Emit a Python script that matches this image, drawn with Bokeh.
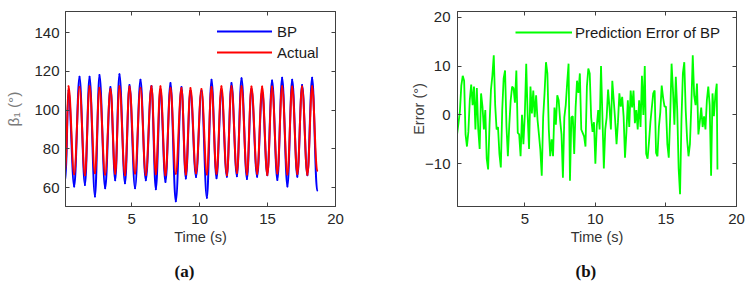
import numpy as np
from bokeh.plotting import figure
from bokeh.models import (Range1d, LinearAxis, FixedTicker, Legend, LegendItem,
                          Title, ColumnDataSource)
from bokeh.layouts import row
from bokeh.embed import file_html
from bokeh.resources import INLINE

# ---------------- data ----------------
# times (s) of successive extrema: start, peak1, trough1, peak2, ..., trough24, peak25, end
ext_time = [0.12,
            0.34, 0.76, 1.15, 1.55, 1.89, 2.29, 2.62, 3.04, 3.43, 3.78, 4.09, 4.50,
            4.83, 5.24, 5.64, 6.03, 6.45, 6.77, 7.11, 7.48, 7.85, 8.24, 8.66, 8.98,
            9.32, 9.73, 10.13, 10.53, 10.87, 11.24, 11.60, 12.00, 12.34, 12.74, 13.08, 13.48,
            13.81, 14.23, 14.60, 14.98, 15.33, 15.72, 16.07, 16.46, 16.81, 17.19, 17.54, 17.93,
            18.28,
            18.65]
actual_ext = [68.8,
              112.4, 67.0, 112.0, 66.5, 112.4, 67.5, 111.6, 66.8, 111.0, 67.2, 112.4, 66.5,
              112.2, 67.4, 111.5, 66.6, 112.4, 67.0, 112.4, 66.4, 111.5, 67.3, 111.5, 66.8,
              111.5, 67.5, 111.0, 66.9, 112.0, 67.2, 112.4, 66.5, 112.4, 67.6, 112.4, 66.8,
              112.2, 67.3, 112.2, 66.6, 112.2, 67.4, 112.4, 66.9, 112.2, 67.1, 112.2, 66.7,
              112.4,
              68.8]
bp_ext = [64.0,
          110.0, 60.7, 117.2, 61.5, 117.2, 55.5, 118.2, 59.8, 112.0, 63.9, 118.5, 62.3,
          113.0, 59.8, 115.7, 63.9, 112.5, 59.3, 110.5, 63.0, 114.0, 53.0, 112.0, 64.8,
          110.0, 65.6, 110.0, 54.8, 115.7, 64.9, 110.0, 65.7, 114.0, 66.0, 116.5, 64.5,
          111.0, 65.7, 110.0, 66.5, 115.3, 64.0, 116.8, 60.7, 115.7, 65.7, 113.0, 66.5,
          116.8,
          58.6]

# prediction error (deg), sampled every 0.1 s from 0.1 s, plus last sample at 18.65 s
err_values = [
    -8.5, -4, -1.7, 0.7, 6, 8, 7, -4, -6.5, -3.5, 3, 6.2, 2, 5.8, -3, 5.5, -3, -7, 4.4, 1.7,
    -3, 1, -9, -11.2, -2, 5.1, 8, 12.2, 2, -3, -2.5, -8, -10.8, 1, 7.5, 9.1, -2.4, -8.5, -2, 3,
    5.8, 5.5, 2.5, 9.1, -3.7, -4, -8.5, 0,
    -6, 0, 10.5, 0, -7, 5.8, 0.3, 5, -0.5, 4, -1, -4, -7.2, -12.5, -0.5, 4.5, 10.8, 8.5, -3, -8.5,
    -5, -8.5, 1.5, -2, 4, 3, -1, -4, -12.9, -0.5, 2, 6.5, 10.5, -13.5, -0.5, -0.3, -8, 1.5, 7, 4.5,
    8.5, -3, -3.7, -4.4, -6.5, 5.8, 9.5,
    8.5, -0.5, -3.5, -1.5, -10, -2.3, 1, -3, 10, -0.5, -11, -3, -0.5, 5.2, 1.5, -3, 7, 3, -1, -6,
    -1.5, 4.4, 1.7, 3.7, -0.3, -8.8, -3.5, 3, -2.5, 5, 1.5, 5, -1.7, 1, -3, 3, -2.5, 8, 0, 10,
    -8, -9, -5.5, -1.5, 1.5, 4.4, 5,
    -7.8, -8.5, -2.5, 0.5, 6, 3.5, 1.7, 1.7, -6, -8.8, -0.5, 10.5, 5, -2, 7.8, 1, -11, -16.3, -1, 8.5,
    10.8, 1, -5, -8.5, -6, 2, 12.2, 4, 2, 6.4, -4, -1.5, 1.5, -2.5, -0.3, -3, 3, 5.8, 2, -12.5,
    4.4, -0.3, 4, 6.4,
    -11.2]
err_dt = 0.1
err_last_time = 18.65
err_time = list(np.round(np.arange(1, len(err_values)) * err_dt, 2)) + [err_last_time]

x_ticks = [5, 10, 15, 20]
left_y_ticks = [60, 80, 100, 120, 140]
right_y_ticks = [-10, 0, 10, 20]

# ---------------- styling ----------------
FONT = "Liberation Sans"
AXC = "#404040"
TXT = "#262626"


def bezier_source(t, v, k=0.364):
    t = np.asarray(t, float)
    v = np.asarray(v, float)
    x0, x1, y0, y1 = t[:-1], t[1:], v[:-1], v[1:]
    d = x1 - x0
    return ColumnDataSource(dict(x0=x0, y0=y0, x1=x1, y1=y1,
                                 cx0=x0 + k * d, cy0=y0, cx1=x1 - k * d, cy1=y1))


def style_axis(ax, ticks, labels=True):
    ax.ticker = FixedTicker(ticks=ticks)
    ax.major_tick_in = 4
    ax.major_tick_out = 0
    ax.minor_tick_in = 0
    ax.minor_tick_out = 0
    ax.axis_line_color = AXC
    ax.major_tick_line_color = AXC
    ax.major_label_text_font = FONT
    if labels:
        ax.major_label_text_color = TXT
        ax.major_label_text_font_size = "15px"
    else:
        ax.major_label_text_color = None
        ax.major_label_text_font_size = "1px"
        ax.major_label_standoff = 0
    ax.axis_label_text_font = FONT
    ax.axis_label_text_font_style = "normal"
    ax.axis_label_text_font_size = "14.5px"


def make_fig(width, xr, yr, yticks, bl, br, bt):
    p = figure(width=width, height=292, output_backend="svg", toolbar_location=None,
               x_range=Range1d(*xr), y_range=Range1d(*yr),
               min_border_left=bl, min_border_right=br, min_border_top=bt,
               min_border_bottom=292 - bt - 198)
    p.xgrid.visible = False
    p.ygrid.visible = False
    p.outline_line_color = AXC
    p.background_fill_color = "white"
    p.border_fill_color = "white"
    style_axis(p.xaxis[0], x_ticks)
    style_axis(p.yaxis[0], yticks)
    p.xaxis[0].axis_label = "Time (s)"
    p.xaxis[0].axis_label_text_color = "#333333"
    p.xaxis[0].major_label_standoff = 7
    p.xaxis[0].axis_label_standoff = 2
    top = LinearAxis()
    style_axis(top, x_ticks, labels=False)
    p.add_layout(top, "above")
    right = LinearAxis()
    style_axis(right, yticks, labels=False)
    p.add_layout(right, "right")
    return p


# ---------------- (a) ----------------
p1 = make_fig(373, (0.12, 20), (50.35, 150.9), left_y_ticks, 65, 38, 10)
p1.yaxis[0].axis_label = "β₁ (°)"
p1.yaxis[0].axis_label_text_color = "#7a7a7a"
p1.yaxis[0].axis_label_text_font_size = "15.5px"
p1.yaxis[0].major_label_standoff = 6
p1.yaxis[0].axis_label_standoff = 9

bp_r = p1.bezier(x0="x0", y0="y0", x1="x1", y1="y1", cx0="cx0", cy0="cy0", cx1="cx1", cy1="cy1",
                 source=bezier_source(ext_time, bp_ext), line_color="#0000FF", line_width=2,
                 line_cap="round")
act_r = p1.bezier(x0="x0", y0="y0", x1="x1", y1="y1", cx0="cx0", cy0="cy0", cx1="cx1", cy1="cy1",
                  source=bezier_source(ext_time, actual_ext), line_color="#FF0000", line_width=2,
                  line_cap="round")
lg1 = Legend(items=[LegendItem(label="BP", renderers=[bp_r], index=0),
                    LegendItem(label="Actual", renderers=[act_r], index=0)],
             location=(152, 144), glyph_width=55, glyph_height=20, label_height=20,
             spacing=1, padding=0, margin=0, label_standoff=5,
             border_line_alpha=0, background_fill_alpha=0,
             label_text_font=FONT, label_text_font_size="15px", label_text_color="#1a1a1a")
p1.add_layout(lg1)
p1.add_layout(Title(text="(a)", align="left", offset=109, text_font="Liberation Serif",
                    text_font_style="bold", text_font_size="17px", text_color="#111111",
                    standoff=24), "below")

# ---------------- (b) ----------------
p2 = make_fig(374, (0.23, 20), (-18.8, 21.2), right_y_ticks, 84, 11, 11)
p2.yaxis[0].axis_label = "Error (°)"
p2.yaxis[0].axis_label_text_color = "#404040"
p2.yaxis[0].major_label_standoff = 7
p2.yaxis[0].axis_label_standoff = -5
p2.yaxis[0].major_label_overrides = {-10: "−10"}

err_line = p2.line(err_time, err_values, line_color="#00FF00", line_width=1.8)
lg2 = Legend(items=[LegendItem(label="Prediction Error of BP", renderers=[err_line])],
             location=(58, 164), glyph_width=57, glyph_height=20, label_height=20,
             spacing=1, padding=0, margin=0, label_standoff=3,
             border_line_alpha=0, background_fill_alpha=0,
             label_text_font=FONT, label_text_font_size="15px", label_text_color="#1a1a1a")
p2.add_layout(lg2)
p2.add_layout(Title(text="(b)", align="left", offset=118, text_font="Liberation Serif",
                    text_font_style="bold", text_font_size="17px", text_color="#111111",
                    standoff=24), "below")

layout = row(p1, p2)
open("out.html", "w").write(file_html(layout, INLINE))
